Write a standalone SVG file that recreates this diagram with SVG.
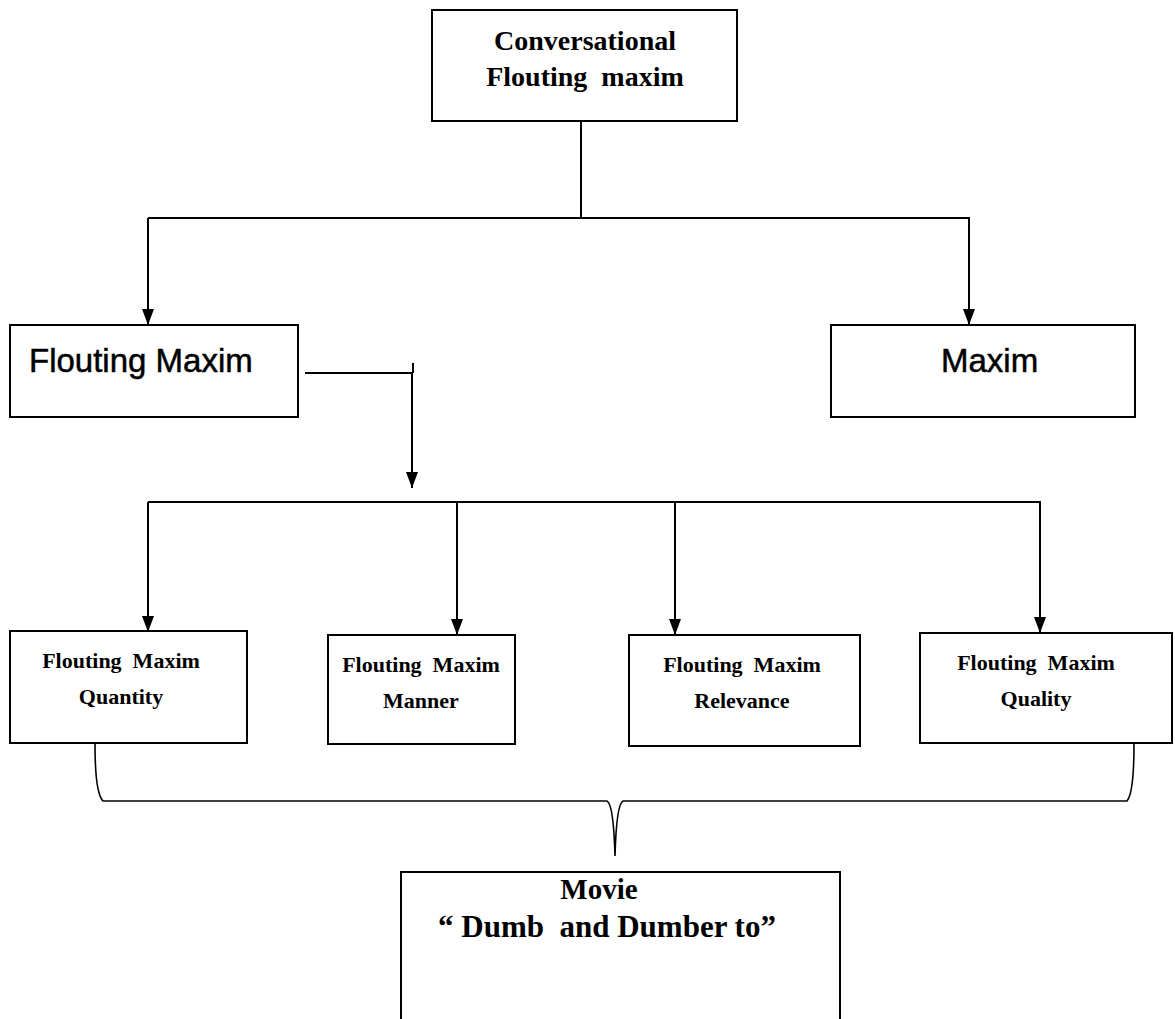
<svg xmlns="http://www.w3.org/2000/svg" width="1175" height="1019" viewBox="0 0 1175 1019">
<style>
.box{fill:#fff;stroke:#000;stroke-width:2}
.ln{fill:none;stroke:#000;stroke-width:2}
.br{fill:none;stroke:#000;stroke-width:1.6}
.serif{font-family:"Liberation Serif","Times New Roman",serif;fill:#000;text-anchor:middle;font-weight:bold}
.sans{font-family:"Liberation Sans",Arial,sans-serif;fill:#000;stroke:#000;stroke-width:0.5}
.l3{font-size:22px}
</style>
<defs>
<marker id="ad" markerWidth="16" markerHeight="12" refX="16" refY="6" orient="auto" markerUnits="userSpaceOnUse" viewBox="0 0 16 12">
<path d="M0,0 L16,6 L0,12 Z" fill="#000"/>
</marker>
</defs>
<rect width="1175" height="1019" fill="#fff"/>
<g id="connectors">
<path class="ln" d="M581,121 V218 M148,218 H970"/>
<path class="ln" d="M148,218 V325" marker-end="url(#ad)"/>
<path class="ln" d="M969,218 V325" marker-end="url(#ad)"/>
<path class="ln" d="M305,373 H413 M413,363 V373"/>
<path class="ln" d="M412,373 V488" marker-end="url(#ad)"/>
<path class="ln" d="M148,502 H1041"/>
<path class="ln" d="M148,502 V632" marker-end="url(#ad)"/>
<path class="ln" d="M457,502 V635" marker-end="url(#ad)"/>
<path class="ln" d="M675,502 V635" marker-end="url(#ad)"/>
<path class="ln" d="M1040,502 V633" marker-end="url(#ad)"/>
<path class="br" d="M95,744 C95,770 97,795 103,801 L607,801 C611,803 614,820 615,856 C616,820 619,803 623,801 L1127,801 C1132,795 1134,770 1134,744"/>
</g>
<g id="n-top">
<rect class="box" x="432" y="10" width="305" height="111"/>
<text class="serif" font-size="28" x="585" y="50">Conversational</text>
<text class="serif" font-size="28" x="585" y="86" xml:space="preserve">Flouting  maxim</text>
</g>
<g id="n-flouting">
<rect class="box" x="10" y="325" width="288" height="92"/>
<text class="sans" font-size="33" x="29" y="372">Flouting Maxim</text>
</g>
<g id="n-maxim">
<rect class="box" x="831" y="325" width="304" height="92"/>
<text class="sans" font-size="33" x="941" y="372">Maxim</text>
</g>
<g id="n-quantity">
<rect class="box" x="10" y="631" width="237" height="112"/>
<text class="serif l3" x="121" y="668" xml:space="preserve">Flouting  Maxim</text>
<text class="serif l3" x="121" y="704">Quantity</text>
</g>
<g id="n-manner">
<rect class="box" x="328" y="635" width="187" height="109"/>
<text class="serif l3" x="421" y="672" xml:space="preserve">Flouting  Maxim</text>
<text class="serif l3" x="421" y="708">Manner</text>
</g>
<g id="n-relevance">
<rect class="box" x="629" y="635" width="231" height="111"/>
<text class="serif l3" x="742" y="672" xml:space="preserve">Flouting  Maxim</text>
<text class="serif l3" x="742" y="708">Relevance</text>
</g>
<g id="n-quality">
<rect class="box" x="920" y="633" width="252" height="110"/>
<text class="serif l3" x="1036" y="670" xml:space="preserve">Flouting  Maxim</text>
<text class="serif l3" x="1036" y="706">Quality</text>
</g>
<g id="n-movie">
<rect class="box" x="401" y="872" width="439" height="160"/>
<text class="serif" font-size="29" x="599" y="899">Movie</text>
<text class="serif" font-size="31" x="607" y="937" xml:space="preserve">“ Dumb  and Dumber to”</text>
</g>
</svg>
